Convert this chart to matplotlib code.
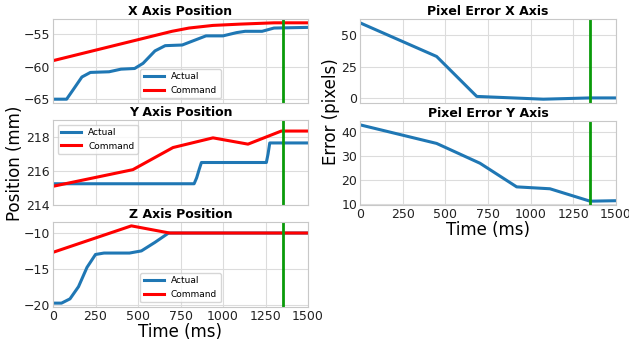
import matplotlib
matplotlib.use("Agg")
import matplotlib.pyplot as plt

# ---- data ----
x_act_t = [0, 80, 120, 170, 220, 330, 400, 480, 530, 600, 660, 760, 830, 900, 1000, 1080, 1130, 1230, 1300, 1500]
x_act_v = [-65, -65, -63.5, -61.6, -60.9, -60.8, -60.4, -60.3, -59.5, -57.6, -56.8, -56.7, -56.0, -55.3, -55.3, -54.8, -54.6, -54.6, -54.1, -54.0]
x_cmd_t = [0, 700, 800, 940, 1100, 1300, 1500]
x_cmd_v = [-59.1, -54.6, -54.1, -53.7, -53.5, -53.3, -53.3]

y_act_t = [0, 830, 845, 860, 873, 1255, 1265, 1275, 1500]
y_act_v = [215.25, 215.25, 215.6, 216.1, 216.5, 216.5, 217.0, 217.65, 217.65]
y_cmd_t = [0, 470, 706, 941, 1147, 1343, 1500]
y_cmd_v = [215.1, 216.08, 217.38, 217.95, 217.58, 218.35, 218.35]

z_act_t = [0, 50, 100, 150, 200, 250, 300, 450, 520, 600, 680, 1500]
z_act_v = [-19.8, -19.8, -19.2, -17.5, -14.8, -13.0, -12.8, -12.8, -12.5, -11.3, -10.0, -10.0]
z_cmd_t = [0, 461, 686, 1500]
z_cmd_v = [-12.7, -9.0, -10.0, -10.0]

ex_t = [0, 449, 684, 1074, 1348, 1500]
ex_v = [60, 33.2, 1.4, -0.8, 0.2, 0.2]
ey_t = [0, 449, 703, 918, 1113, 1348, 1500]
ey_v = [43, 35.2, 26.9, 17.0, 16.2, 11.0, 11.2]

marker_time = 1350
xticks = [0, 250, 500, 750, 1000, 1250, 1500]

BLUE = "#1f77b4"
RED = "#ff0000"
GREEN = "#0a9a0a"

W, H = 629, 343
fig = plt.figure(figsize=(W / 100, H / 100), dpi=100)


def make_ax(left, top, right, bottom):
    ax = fig.add_axes([left / W, 1 - bottom / H, (right - left) / W, (bottom - top) / H])
    ax.set_xlim(0, 1500)
    ax.set_xticks(xticks)
    ax.grid(True, color="#dcdcdc", linewidth=0.8)
    ax.set_axisbelow(True)
    for s in ax.spines.values():
        s.set_color("#c8c8c8")
        s.set_linewidth(0.8)
    ax.tick_params(length=0, pad=2, labelsize=9, colors="#222222")
    return ax


ax1 = make_ax(53, 19, 308, 103)
ax2 = make_ax(53, 120, 308, 205)
ax3 = make_ax(53, 222, 308, 307)
ax4 = make_ax(360, 19, 616, 103)
ax5 = make_ax(360, 121, 616, 205)

lw = 2.2
ax1.plot(x_act_t, x_act_v, color=BLUE, lw=lw, label="Actual")
ax1.plot(x_cmd_t, x_cmd_v, color=RED, lw=lw, label="Command")
ax1.set_yticks([-65, -60, -55])
ax1.set_title("X Axis Position", fontsize=9, fontweight="bold", pad=3)
ax1.set_xticklabels([])
ax1.legend(loc="lower center", fontsize=6.5, handlelength=2.2)

ax2.plot(y_act_t, y_act_v, color=BLUE, lw=lw, label="Actual")
ax2.plot(y_cmd_t, y_cmd_v, color=RED, lw=lw, label="Command")
ax2.set_ylim(214, 219)
ax2.set_yticks([214, 216, 218])
ax2.set_title("Y Axis Position", fontsize=9, fontweight="bold", pad=3)
ax2.set_xticklabels([])
ax2.legend(loc="upper left", fontsize=6.5, handlelength=2.2)

ax3.plot(z_act_t, z_act_v, color=BLUE, lw=lw, label="Actual")
ax3.plot(z_cmd_t, z_cmd_v, color=RED, lw=lw, label="Command")
ax3.set_yticks([-20, -15, -10])
ax3.set_title("Z Axis Position", fontsize=9, fontweight="bold", pad=3)
ax3.set_xlabel("Time (ms)", fontsize=12, labelpad=0)
ax3.legend(loc="lower center", fontsize=6.5, handlelength=2.2)

ax4.plot(ex_t, ex_v, color=BLUE, lw=lw)
ax4.set_yticks([0, 25, 50])
ax4.set_title("Pixel Error X Axis", fontsize=9, fontweight="bold", pad=3)
ax4.set_xticklabels([])

ax5.plot(ey_t, ey_v, color=BLUE, lw=lw)
ax5.set_yticks([10, 20, 30, 40])
ax5.set_title("Pixel Error Y Axis", fontsize=9, fontweight="bold", pad=3)
ax5.set_xlabel("Time (ms)", fontsize=12, labelpad=0)

for ax in (ax1, ax2, ax3, ax4, ax5):
    ax.axvline(marker_time, color=GREEN, lw=2)

fig.text(15 / W, 1 - 163 / H, "Position (mm)", rotation=90, fontsize=12,
         ha="center", va="center")
fig.text(331 / W, 1 - 112 / H, "Error (pixels)", rotation=90, fontsize=12,
         ha="center", va="center")

fig.savefig("out.png", dpi=100)
